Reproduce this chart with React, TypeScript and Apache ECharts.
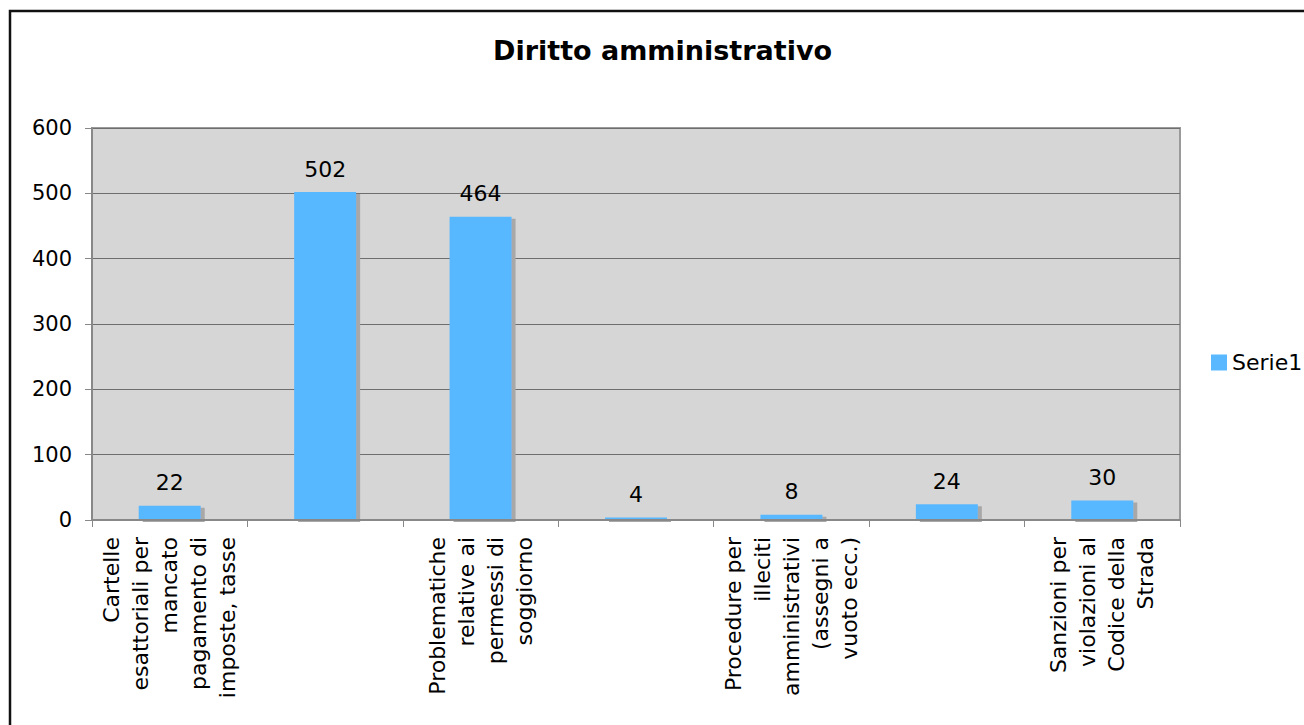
import React, { useEffect, useRef } from "react";
import * as echarts from "echarts";

const title = "Diritto amministrativo";
const seriesName = "Serie1";
const categories = [
  "Cartelle\nesattoriali per\nmancato\npagamento di\nimposte, tasse",
  "",
  "Problematiche\nrelative ai\npermessi di\nsoggiorno",
  " ",
  "Procedure per\nilleciti\namministrativi\n(assegni a\nvuoto ecc.)",
  "  ",
  "Sanzioni per\nviolazioni al\nCodice della\nStrada",
];
const values = [22, 502, 464, 4, 8, 24, 30];
const yTicks = { min: 0, max: 600, interval: 100 };

const FONT = "DejaVu Sans";

export default function App() {
  const ref = useRef<HTMLDivElement>(null);
  useEffect(() => {
    if (!ref.current) return;
    const chart = echarts.init(ref.current, null, { renderer: "svg" });
    chart.setOption({
      animation: false,
      backgroundColor: "#ffffff",
      textStyle: { fontFamily: FONT },
      title: {
        text: title,
        left: 488,
        top: 32,
        textStyle: { fontFamily: FONT, fontSize: 27, fontWeight: "bold", color: "#000" },
      },
      graphic: [
        {
          type: "rect",
          shape: { x: 10, y: 11, width: 1400, height: 800 },
          style: { fill: "none", stroke: "#111", lineWidth: 2.5 },
          silent: true,
          z: 100,
        },
      ],
      legend: {
        data: [seriesName],
        left: 1206,
        top: "middle",
        orient: "vertical",
        icon: "rect",
        itemWidth: 16,
        itemHeight: 16,
        itemGap: 8,
        textStyle: { fontFamily: FONT, fontSize: 22, color: "#000" },
      },
      grid: {
        left: 92,
        top: 128,
        right: 124,
        bottom: 205,
        show: true,
        backgroundColor: "#d6d6d6",
        borderColor: "#9a9a9a",
        borderWidth: 2,
      },
      xAxis: {
        type: "category",
        data: categories,
        z: 5,
        axisLine: { show: true, lineStyle: { color: "#888", width: 2 } },
        axisTick: { show: true, interval: 0, length: 7, lineStyle: { color: "#888", width: 1 } },
        axisLabel: {
          interval: 0,
          rotate: 90,
          margin: 17,
          fontFamily: FONT,
          fontSize: 22,
          lineHeight: 29,
          color: "#000",
        },
        splitLine: { show: false },
      },
      yAxis: {
        type: "value",
        min: yTicks.min,
        max: yTicks.max,
        interval: yTicks.interval,
        axisLine: { show: true, lineStyle: { color: "#888", width: 2 } },
        axisTick: { show: true, length: 7, lineStyle: { color: "#888", width: 1 } },
        axisLabel: { fontFamily: FONT, fontSize: 21, color: "#000", margin: 20 },
        splitLine: { show: true, lineStyle: { color: "#6e6e6e", width: 1 } },
      },
      series: [
        {
          name: seriesName,
          type: "bar",
          data: values,
          barWidth: 62,
          itemStyle: {
            color: "#59b8ff",
            shadowColor: "#a8a8a8",
            shadowBlur: 0,
            shadowOffsetX: 4,
            shadowOffsetY: 2,
          },
          label: {
            show: true,
            position: "top",
            distance: 12,
            fontFamily: FONT,
            fontSize: 22,
            color: "#000",
          },
        },
      ],
    });
    return () => chart.dispose();
  }, []);
  return (
    <div
      ref={ref}
      style={{ position: "absolute", left: 0, top: 0, width: 1304, height: 725 }}
    />
  );
}
